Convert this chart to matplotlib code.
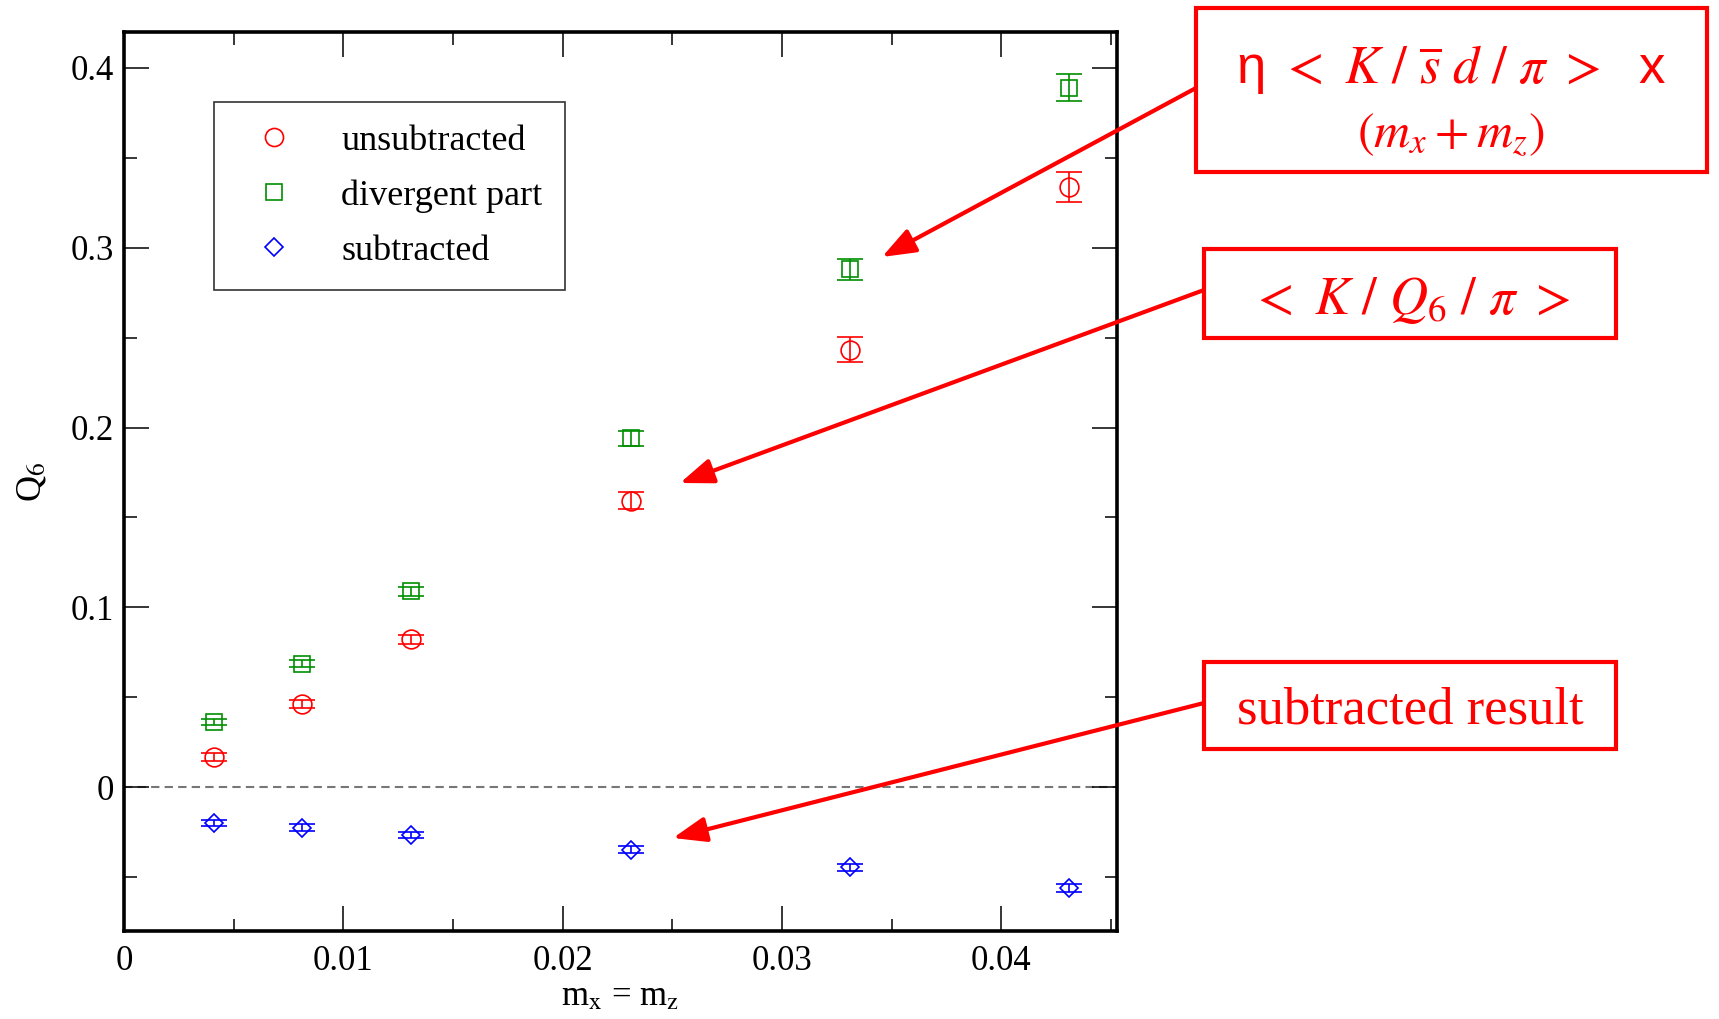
import numpy as np
import matplotlib
matplotlib.use('Agg')
import matplotlib.pyplot as plt
from matplotlib.lines import Line2D
from matplotlib.patches import Rectangle
from matplotlib.ticker import MultipleLocator, FuncFormatter

plt.rcParams['font.family'] = ['Liberation Serif', 'DejaVu Serif']
plt.rcParams['mathtext.fontset'] = 'stix'

# quark masses (m_x = m_z)
masses = [0.0041, 0.0081, 0.0131, 0.0231, 0.0331, 0.0431]

# <K|Q6|pi> unsubtracted
unsub = [0.0167, 0.0462, 0.0822, 0.1594, 0.2434, 0.3336]
unsub_err = [0.0021, 0.0021, 0.0025, 0.0048, 0.0067, 0.0084]

# divergent part
diverg = [0.0363, 0.0687, 0.1090, 0.1940, 0.2880, 0.3890]
diverg_err = [0.0015, 0.0020, 0.0025, 0.0043, 0.0058, 0.0076]

# subtracted result
sub = [-0.0200, -0.0226, -0.0266, -0.0347, -0.0446, -0.0560]
sub_err = [0.0019, 0.0019, 0.0019, 0.0020, 0.0020, 0.0022]

red = '#ff0000'
green = '#008f00'
blue = '#0000ff'

fig = plt.figure(figsize=(17.19, 10.19), dpi=100)
ax = fig.add_axes([0.0721, 0.0864, 0.5777, 0.8822])

common = dict(linestyle='none', mfc='none', mew=1.2, elinewidth=1.2,
              capsize=9.5, capthick=1.2)
ax.errorbar(masses, unsub, yerr=unsub_err, marker='o', ms=13.5,
            color=red, **common)
ax.errorbar(masses, diverg, yerr=diverg_err, marker='s', ms=11.5,
            color=green, **common)
ax.errorbar(masses, sub, yerr=sub_err, marker='D', ms=9,
            color=blue, **common)

ax.axhline(0, color='#777777', lw=1.5, linestyle=(0, (4, 2.5)), zorder=0)

ax.set_xlim(0, 0.04528)
ax.set_ylim(-0.08, 0.42)
ax.xaxis.set_major_locator(MultipleLocator(0.01))
ax.xaxis.set_minor_locator(MultipleLocator(0.005))
ax.yaxis.set_major_locator(MultipleLocator(0.1))
ax.yaxis.set_minor_locator(MultipleLocator(0.05))
fmt = FuncFormatter(lambda v, p: '0' if abs(v) < 1e-9 else ('%g' % round(v, 4)))
ax.xaxis.set_major_formatter(fmt)
ax.yaxis.set_major_formatter(fmt)
ax.set_yticks([0, 0.1, 0.2, 0.3, 0.4])

ax.tick_params(which='both', direction='in', top=True, right=True,
               labelsize=25, width=1.1)
ax.tick_params(which='major', length=18)
ax.tick_params(which='minor', length=9)
ax.tick_params(axis='x', pad=10)
ax.tick_params(axis='y', pad=7)
for sp in ax.spines.values():
    sp.set_linewidth(2.6)

ax.set_xlabel(r'm$_{\rm x}$ = m$_{\rm z}$', fontsize=25, labelpad=2)
ax.set_ylabel(r'Q$_6$', fontsize=26)
ax.yaxis.set_label_coords(-0.076, 0.5)

handles = [
    Line2D([], [], marker='o', ms=13, mfc='none', mew=1.2, color=red, linestyle='none'),
    Line2D([], [], marker='s', ms=11.5, mfc='none', mew=1.2, color=green, linestyle='none'),
    Line2D([], [], marker='D', ms=9, mfc='none', mew=1.2, color=blue, linestyle='none'),
]
leg = ax.legend(handles, ['unsubtracted', 'divergent part', 'subtracted'],
                loc='upper left', bbox_to_anchor=(0.0906, 0.922),
                borderaxespad=0, fontsize=26, frameon=True, fancybox=False,
                handlelength=2.1, handletextpad=0.8, borderpad=0.62,
                labelspacing=0.6)
leg.get_frame().set_edgecolor('black')
leg.get_frame().set_linewidth(1.2)

# annotation boxes (figure pixel coordinates)
boxes = [(1196, 8, 1707, 172), (1204, 249, 1616, 338), (1204, 662, 1616, 749)]
H = 1019
for x0, y0, x1, y1 in boxes:
    fig.add_artist(Rectangle((x0 / 1719, 1 - y1 / H), (x1 - x0) / 1719,
                             (y1 - y0) / H, transform=fig.transFigure,
                             fill=False, edgecolor=red, lw=3))

fig.text(1451 / 1719, 1 - 69 / H,
         r'η $<\ K\ /\ \overline{s}\ d\ /\ \pi\ >$  x',
         color=red, fontsize=38, ha='center', va='center',
         family=['Liberation Sans', 'DejaVu Sans'])
fig.text(1451 / 1719, 1 - 135 / H, r'$(m_x + m_z)$',
         color=red, fontsize=36, ha='center', va='center')
fig.text(1410 / 1719, 1 - 300 / H, r'$<\ K\ /\ Q_6\ /\ \pi\ >$',
         color=red, fontsize=38, ha='center', va='center')
fig.text(1410 / 1719, 1 - 710 / H, 'subtracted result',
         color=red, fontsize=38, ha='center', va='center')

arrows = [((1196, 88), (882, 257)), ((1204, 290), (680, 483)),
          ((1204, 703), (673, 838))]
for (tx, ty), (hx, hy) in arrows:
    fig.add_artist(matplotlib.patches.FancyArrowPatch(
        (tx / 1719, 1 - ty / H), (hx / 1719, 1 - hy / H),
        transform=fig.transFigure, color=red, lw=3,
        arrowstyle='-|>,head_length=0.45,head_width=0.17',
        mutation_scale=45, shrinkA=0, shrinkB=0))

fig.savefig('out.png', dpi=100)
